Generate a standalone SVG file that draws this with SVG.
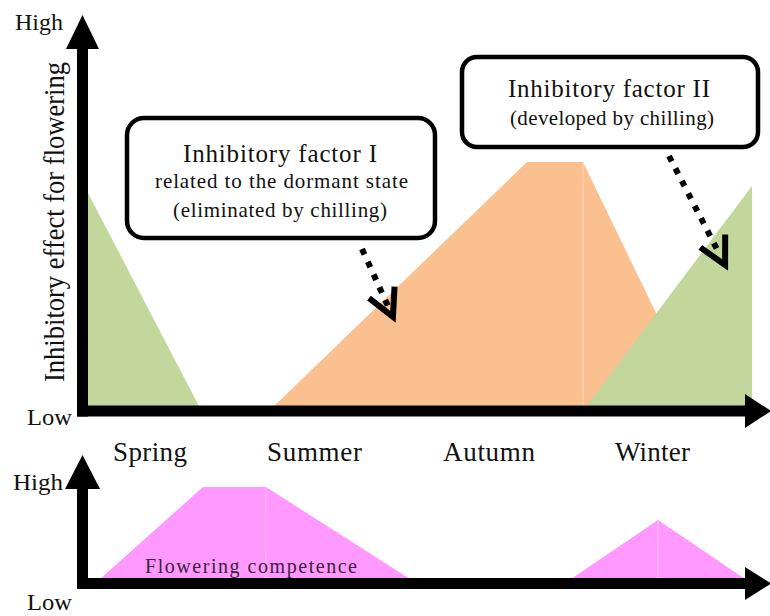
<svg xmlns="http://www.w3.org/2000/svg" width="770" height="616" viewBox="0 0 770 616">
  <style>
    .t { font-family: "Liberation Serif", "DejaVu Serif", serif; fill: #111; }
    .axis { stroke: #000; stroke-width: 11; fill: none; }
    .head { fill: #000; }
    .box { fill: #fff; stroke: #000; stroke-width: 4.5; }
    .dot { stroke: #000; stroke-width: 6; stroke-dasharray: 6 8; fill: none; }
    .seam { stroke: #fff; stroke-width: 1; opacity: 0.35; }
  </style>
  <defs>
    <marker id="chev" markerUnits="userSpaceOnUse" markerWidth="60" markerHeight="60" refX="0" refY="0" viewBox="-30 -30 60 60" orient="auto" overflow="visible">
      <path d="M-15,-14 L12,0 L-15,14" fill="none" stroke="#000" stroke-width="6" stroke-linejoin="miter"/>
    </marker>
  </defs>
  <rect width="770" height="616" fill="#fff"/>

  <!-- upper chart: areas -->
  <g id="area-factor1">
    <polygon points="272,408 527,162 583,162 702,408" fill="#fac090"/>
    <line class="seam" x1="583" y1="163" x2="583" y2="406"/>
  </g>
  <g id="area-spring">
    <polygon points="88,193 88,408 200,408" fill="#c3d69b"/>
  </g>
  <g id="area-factor2">
    <polygon points="585,408 752,186 752,408" fill="#c3d69b"/>
  </g>

  <!-- upper chart: axes -->
  <g id="axes-top">
    <line class="axis" x1="82.5" y1="416.5" x2="82.5" y2="46"/>
    <line class="axis" x1="77" y1="411" x2="748" y2="411"/>
    <polygon class="head" points="66,49 99,49 82.5,15"/>
    <polygon class="head" points="745,394 745,428 771,411"/>
  </g>
  <text class="t" x="15" y="30" font-size="24" textLength="48" lengthAdjust="spacingAndGlyphs">High</text>
  <text class="t" x="27" y="425" font-size="24" textLength="45" lengthAdjust="spacingAndGlyphs">Low</text>
  <text class="t" font-size="29" text-anchor="middle" textLength="320" lengthAdjust="spacingAndGlyphs" transform="translate(64,222) rotate(-90)">Inhibitory effect for flowering</text>

  <!-- seasons -->
  <g id="seasons">
    <text class="t" x="113" y="461" font-size="27" textLength="74">Spring</text>
    <text class="t" x="267" y="461" font-size="27" textLength="95">Summer</text>
    <text class="t" x="443" y="461" font-size="27" textLength="92">Autumn</text>
    <text class="t" x="615" y="461" font-size="27" textLength="75">Winter</text>
  </g>

  <!-- callout boxes -->
  <g id="box-factor1">
    <rect class="box" x="127" y="118" width="308" height="120" rx="17"/>
    <text class="t" x="183" y="162" font-size="25" textLength="194">Inhibitory factor I</text>
    <text class="t" x="155" y="188" font-size="21" textLength="253">related to the dormant state</text>
    <text class="t" x="173" y="217" font-size="21" textLength="214">(eliminated by chilling)</text>
  </g>
  <g id="box-factor2">
    <rect class="box" x="462" y="57" width="296" height="90" rx="15"/>
    <text class="t" x="508" y="97" font-size="25" textLength="202">Inhibitory factor II</text>
    <text class="t" x="510" y="125" font-size="21" textLength="204">(developed by chilling)</text>
  </g>

  <!-- dotted pointers -->
  <g id="connectors">
    <path class="dot" d="M362,249 L388,306" marker-end="url(#chev)"/>
    <path class="dot" d="M669,156 L719.6,254.3" marker-end="url(#chev)"/>
  </g>

  <!-- lower chart -->
  <g id="area-competence">
    <polygon points="100,579 203,487 266,487 410,579" fill="#ff99ff"/>
    <polygon points="571,579 658,520 745,579" fill="#ff99ff"/>
    <line class="seam" x1="266" y1="488" x2="266" y2="578"/>
    <line class="seam" x1="658" y1="521" x2="658" y2="578"/>
    <text class="t" x="145" y="573" font-size="20" style="fill:#40203c" textLength="212">Flowering competence</text>
  </g>
  <g id="axes-bottom">
    <line class="axis" x1="82.5" y1="589" x2="82.5" y2="486"/>
    <line class="axis" x1="77" y1="583.5" x2="748" y2="583.5"/>
    <polygon class="head" points="65,489 100,489 82.5,455"/>
    <polygon class="head" points="745,567 745,600 771,583.5"/>
  </g>
  <text class="t" x="13" y="490" font-size="24" textLength="50" lengthAdjust="spacingAndGlyphs">High</text>
  <text class="t" x="27" y="610" font-size="24" textLength="45" lengthAdjust="spacingAndGlyphs">Low</text>
</svg>
